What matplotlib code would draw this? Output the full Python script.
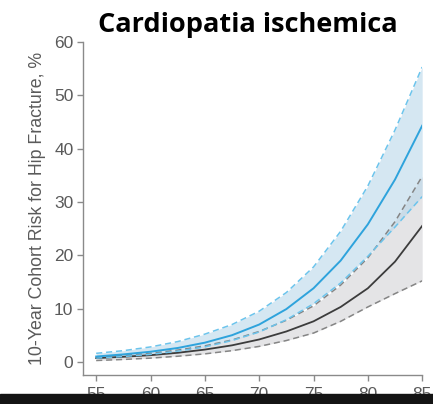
import matplotlib
matplotlib.use("Agg")
import matplotlib.pyplot as plt
from matplotlib.patches import Rectangle

# age (years) and 10-year risk (%)
age = [55, 57.5, 60, 62.5, 65, 67.5, 70, 72.5, 75, 77.5, 80, 82.5, 85]

blue_mid = [1.0, 1.4, 1.9, 2.6, 3.6, 5.0, 7.0, 9.9, 13.8, 19.0, 25.8, 34.2, 44.3]
blue_lo = [0.7, 1.0, 1.4, 2.0, 2.8, 4.0, 5.6, 7.9, 10.9, 14.8, 19.8, 25.3, 31.0]
blue_hi = [1.6, 2.1, 2.8, 3.8, 5.2, 7.0, 9.5, 13.0, 17.8, 24.5, 33.0, 43.5, 55.3]

gray_mid = [0.7, 0.95, 1.25, 1.7, 2.3, 3.1, 4.2, 5.7, 7.6, 10.3, 13.8, 18.8, 25.5]
gray_lo = [0.25, 0.45, 0.7, 1.05, 1.5, 2.1, 2.9, 4.0, 5.4, 7.6, 10.3, 12.8, 15.2]
gray_hi = [0.9, 1.2, 1.6, 2.2, 3.0, 4.1, 5.7, 7.8, 10.5, 14.4, 19.5, 26.3, 34.8]

xticks = [55, 60, 65, 70, 75, 80, 85]
yticks = [0, 10, 20, 30, 40, 50, 60]

plt.rcParams['font.family'] = ['Liberation Sans', 'DejaVu Sans']

fig = plt.figure(figsize=(4.33, 4.04), dpi=100)
ax = fig.add_axes([0.192, 0.072, 0.783, 0.824])

ax.fill_between(age, gray_lo, gray_hi, color='#e4e4e6', lw=0, zorder=1)
ax.fill_between(age, blue_lo, blue_hi, color='#b9d7ea', alpha=0.6, lw=0, zorder=2)

ax.plot(age, gray_lo, '--', color='#858585', lw=1.1, dashes=(4, 2.5), zorder=3)
ax.plot(age, gray_hi, '--', color='#858585', lw=1.1, dashes=(4, 2.5), zorder=3)
ax.plot(age, gray_mid, '-', color='#3c3c3c', lw=1.3, zorder=4)

ax.plot(age, blue_lo, '--', color='#6cc4ec', lw=1.1, dashes=(4, 2.5), zorder=5)
ax.plot(age, blue_hi, '--', color='#6cc4ec', lw=1.1, dashes=(4, 2.5), zorder=5)
ax.plot(age, blue_mid, '-', color='#2ea3dc', lw=1.4, zorder=6)

ax.set_xlim(53.8, 85)
ax.set_ylim(-2.45, 60)
ax.set_xticks(xticks)
ax.set_yticks(yticks)

for s in ['top', 'right']:
    ax.spines[s].set_visible(False)
for s in ['left', 'bottom']:
    ax.spines[s].set_color('#8a8a8a')
    ax.spines[s].set_linewidth(1.0)

ax.tick_params(colors='#8a8a8a', labelcolor='#5a5a5a', labelsize=12.5,
               length=4, width=1.0, pad=3)
ax.tick_params(axis='x', pad=5)
ax.set_ylabel('10-Year Cohort Risk for Hip Fracture, %', fontsize=12.8,
              color='#5a5a5a', labelpad=6)

fig.text(0.572, 0.921, 'Cardiopatia ischemica', ha='center', va='baseline',
         fontsize=19.5, fontweight='bold', family=['Open Sans', 'DejaVu Sans'])

# dark strip at the bottom of the screenshot
fig.add_artist(Rectangle((0, 0), 1, 0.025, transform=fig.transFigure,
                         color='#141414', zorder=10))

fig.savefig('out.png', dpi=100)
